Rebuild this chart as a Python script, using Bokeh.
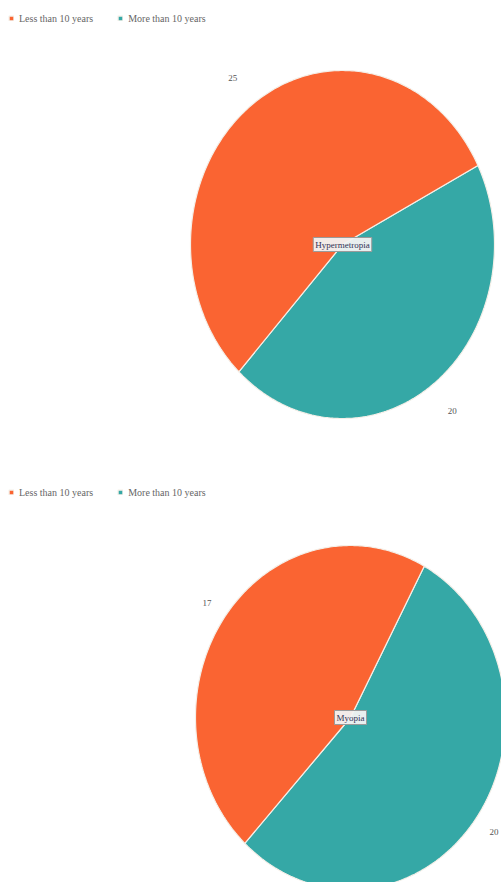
import numpy as np
from bokeh.plotting import figure
from bokeh.models import Range1d, Label, Legend, LegendItem
from bokeh.layouts import column
from bokeh.embed import file_html
from bokeh.resources import INLINE

categories = ["Less than 10 years", "More than 10 years"]
colors = ["#FA6432", "#35A8A6"]
chart_titles = ["Hypermetropia", "Myopia"]
hyper_values = [25, 20]
myopia_values = [17, 20]

FONT = "Liberation Serif"


def make_pie(name, values, W, H, cx, cy, rx, ry, label_f, start_deg=227.0):
    p = figure(width=W, height=H, output_backend="svg", toolbar_location=None,
               x_range=Range1d(-cx, W - cx), y_range=Range1d(-(H - cy), cy),
               x_axis_location=None, y_axis_location=None)
    p.min_border_left = p.min_border_right = p.min_border_top = p.min_border_bottom = 0
    p.grid.visible = False
    p.outline_line_color = None
    p.background_fill_color = "white"
    p.border_fill_color = "white"

    total = float(sum(values))
    a = np.deg2rad(start_deg)
    renderers = {}
    # slices drawn counter-clockwise starting with the second category
    for idx in [1, 0]:
        span = values[idx] / total * 2 * np.pi
        t = np.linspace(a, a + span, 240)
        xs = np.concatenate([[0.0], rx * np.cos(t), [0.0]])
        ys = np.concatenate([[0.0], ry * np.sin(t), [0.0]])
        r = p.patch(xs, ys, fill_color=colors[idx], line_color="#f4efe8",
                    line_width=1.2)
        renderers[idx] = r
        mid = a + span / 2
        p.add_layout(Label(x=label_f * rx * np.cos(mid), y=label_f * ry * np.sin(mid),
                           text=str(values[idx]), text_align="center",
                           text_baseline="middle", text_font=FONT,
                           text_font_size="9px", text_color="#555555"))
        a += span

    p.add_layout(Label(x=0, y=0, text=name, text_align="center", text_baseline="middle",
                       text_font=FONT, text_font_size="9px", text_color="#333355",
                       background_fill_color="#f2f2f2", background_fill_alpha=0.95,
                       border_line_color="#9a9a9a", border_line_width=1, padding=2))

    legend = Legend(items=[LegendItem(label=categories[i], renderers=[renderers[i]])
                           for i in range(len(categories))],
                    orientation="horizontal", location="top_left")
    legend.margin = 8
    legend.padding = 5
    legend.spacing = 24
    legend.glyph_width = 6
    legend.glyph_height = 6
    legend.label_standoff = 5
    legend.label_text_font = FONT
    legend.label_text_font_size = "10px"
    legend.label_text_color = "#666666"
    legend.label_height = 20
    legend.border_line_color = None
    legend.background_fill_alpha = 0
    p.add_layout(legend, "center")
    return p


p1 = make_pie(chart_titles[0], hyper_values, 501, 474, 342, 244, 152, 174, 1.2)
p2 = make_pie(chart_titles[1], myopia_values, 501, 408, 350, 243, 155, 172, 1.14)

layout = column(p1, p2, spacing=0)
open("out.html", "w").write(file_html(layout, INLINE))
